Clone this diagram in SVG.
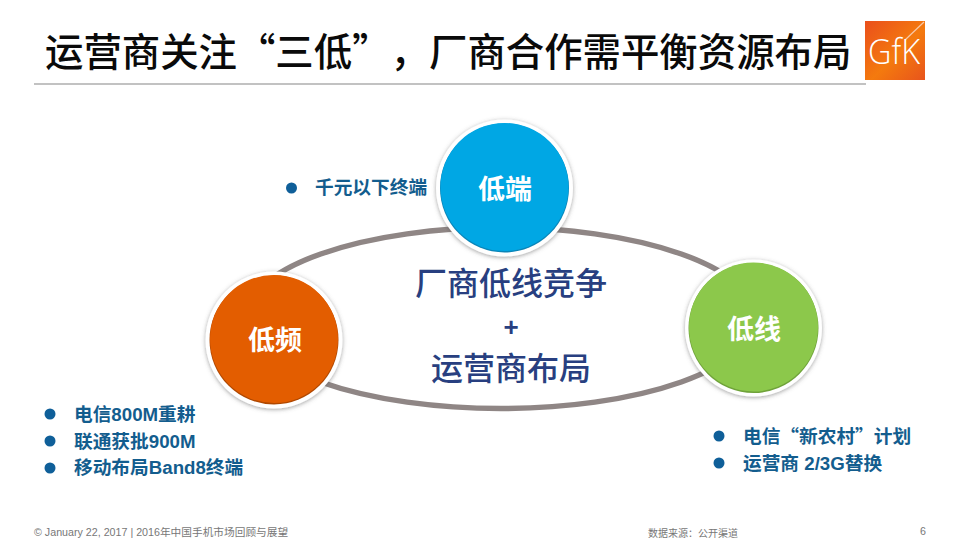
<svg xmlns="http://www.w3.org/2000/svg" width="960" height="540" viewBox="0 0 960 540">
<style>
.cjk{font-family:"Liberation Sans","Noto Sans CJK SC",sans-serif}
.han{font-family:"Noto Sans CJK SC","Liberation Sans",sans-serif;text-spacing-trim:space-all;font-feature-settings:"chws" 0,"halt" 0,"palt" 0}
.title{font-size:38.400px;font-weight:500;fill:#0a0a0a}
.bul{font-size:18.700px;font-weight:700;fill:#135d8e}
.dot{fill:#0f5f99}
.node{font-size:27px;font-weight:700;fill:#fff;text-anchor:middle}
.ctr{font-size:32px;font-weight:500;fill:#283f80;text-anchor:middle}
.foot{font-size:10.700px;fill:#777}
.ring{fill:#fff;filter:url(#sh)}
</style>
<defs>
<filter id="sh" x="-20%" y="-20%" width="140%" height="140%"><feDropShadow dx="0" dy="1" stdDeviation="2" flood-color="#555" flood-opacity=".55"/></filter>
<linearGradient id="lg" x1="0" y1="0" x2="1" y2="1"><stop offset="0" stop-color="#ea4f1c"/><stop offset=".55" stop-color="#f47a0e"/><stop offset="1" stop-color="#e8541c"/></linearGradient>
</defs>
<rect width="960" height="540" fill="#fff"/>
<g id="title"><text class="han title" x="45" y="66">运营商关注“三低”，<tspan x="429">厂商合作需平衡资源布局</tspan></text>
<rect x="34" y="83" width="832" height="2" fill="#c2c2c2"/></g>
<g id="logo"><rect x="865" y="21" width="60" height="59" fill="url(#lg)"/>
<path d="M905 40L924 22" stroke="#f8c9a8" stroke-width="1.200" fill="none"/>
<text x="868" y="64" font-family="'Open Sans','Liberation Sans',sans-serif" font-weight="300" font-size="34" fill="#fff" textLength="52" lengthAdjust="spacingAndGlyphs">GfK</text></g>
<g id="connectors"><ellipse cx="501" cy="318" rx="255" ry="90.500" fill="none" stroke="#8f8685" stroke-width="5.500"/></g>
<g id="center-label"><text class="han ctr" x="511" y="295">厂商低线竞争</text><text class="ctr" x="511" y="336" style="font-family:'Liberation Sans',sans-serif;font-weight:700;font-size:26px">+</text><text class="han ctr" x="511" y="380">运营商布局</text></g>
<g id="node-low-end"><circle class="ring" cx="504.500" cy="188" r="68.500"/><circle cx="504.500" cy="188" r="64.500" fill="#0a85b8"/><circle cx="504.500" cy="187" r="64" fill="#00a7e4"/><text class="han node" x="505" y="199">低端</text></g>
<g id="node-low-freq"><circle class="ring" cx="274" cy="340" r="68.500"/><circle cx="274" cy="340" r="64.500" fill="#b04800"/><circle cx="274" cy="339" r="64" fill="#e35d00"/><text class="han node" x="275" y="350">低频</text></g>
<g id="node-low-line"><circle class="ring" cx="753.500" cy="328" r="68.500"/><circle cx="753.500" cy="328" r="65" fill="#6fa23a"/><circle cx="753.500" cy="327" r="64.500" fill="#8cc84b"/><text class="han node" x="754" y="339">低线</text></g>
<g id="list-top"><circle class="dot" cx="291.500" cy="188" r="5.500"/><text class="cjk bul" x="315" y="194">千元以下终端</text></g>
<g id="list-left"><circle class="dot" cx="50" cy="414" r="5.500"/><text class="cjk bul" x="74" y="421">电信800M重耕</text>
<circle class="dot" cx="50" cy="441" r="5.500"/><text class="cjk bul" x="74" y="448">联通获批900M</text>
<circle class="dot" cx="50" cy="468" r="5.500"/><text class="cjk bul" x="74" y="474">移动布局Band8终端</text></g>
<g id="list-right"><circle class="dot" cx="719" cy="436" r="5.500"/><text class="han bul" x="743" y="443">电信“新农村”计划</text>
<circle class="dot" cx="719" cy="463" r="5.500"/><text class="cjk bul" x="743" y="470">运营商 2/3G替换</text></g>
<g id="footer"><text class="cjk foot" x="34" y="536">© January 22, 2017 | 2016年中国手机市场回顾与展望</text>
<text class="cjk foot" x="648" y="537" style="font-size:10px">数据来源：公开渠道</text>
<text class="cjk foot" x="920" y="535">6</text></g>
</svg>
